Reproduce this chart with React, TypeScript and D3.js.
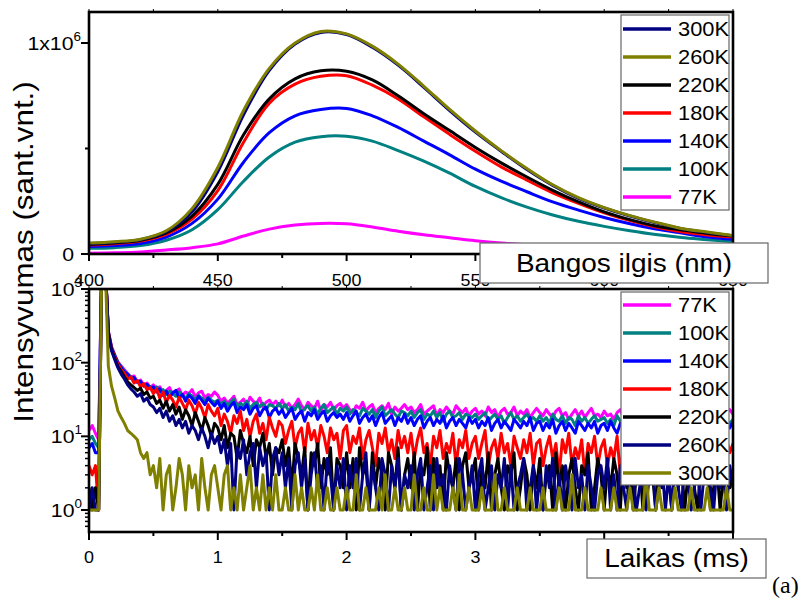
import React from 'react';
import * as d3 from 'd3';

// ---------- Top panel: emission spectra (intensity in units of 10^6) ----------
const WAVELENGTH = [400, 410, 420, 430, 440, 450, 460, 470, 480, 490, 500, 510, 520, 530, 540, 550, 560, 570, 580, 590, 600, 610, 620, 630, 640, 650];
const SPEC_300K = [0.050, 0.056, 0.068, 0.106, 0.200, 0.390, 0.660, 0.870, 0.995, 1.050, 1.040, 0.980, 0.895, 0.790, 0.680, 0.578, 0.487, 0.400, 0.325, 0.264, 0.218, 0.180, 0.148, 0.120, 0.102, 0.086];
const SPEC_260K = [0.052, 0.058, 0.070, 0.110, 0.215, 0.410, 0.680, 0.880, 1.000, 1.055, 1.043, 0.985, 0.900, 0.795, 0.685, 0.583, 0.490, 0.405, 0.328, 0.267, 0.220, 0.182, 0.150, 0.121, 0.104, 0.088];
const SPEC_220K = [0.045, 0.052, 0.065, 0.100, 0.180, 0.330, 0.565, 0.735, 0.830, 0.868, 0.866, 0.825, 0.750, 0.665, 0.585, 0.505, 0.432, 0.365, 0.302, 0.247, 0.200, 0.163, 0.133, 0.114, 0.097, 0.085];
const SPEC_180K = [0.043, 0.049, 0.061, 0.093, 0.165, 0.300, 0.530, 0.715, 0.805, 0.842, 0.845, 0.800, 0.735, 0.650, 0.567, 0.487, 0.413, 0.350, 0.290, 0.240, 0.195, 0.158, 0.128, 0.105, 0.090, 0.080];
const SPEC_140K = [0.035, 0.040, 0.050, 0.080, 0.145, 0.260, 0.435, 0.575, 0.655, 0.685, 0.690, 0.655, 0.600, 0.535, 0.470, 0.402, 0.345, 0.295, 0.247, 0.208, 0.173, 0.143, 0.118, 0.099, 0.081, 0.070];
const SPEC_100K = [0.027, 0.030, 0.040, 0.065, 0.115, 0.210, 0.345, 0.460, 0.530, 0.556, 0.558, 0.535, 0.490, 0.440, 0.383, 0.320, 0.267, 0.222, 0.185, 0.155, 0.131, 0.110, 0.092, 0.078, 0.068, 0.058];
const SPEC_77K = [0.004, 0.006, 0.010, 0.019, 0.030, 0.048, 0.085, 0.118, 0.137, 0.145, 0.143, 0.128, 0.108, 0.091, 0.077, 0.063, 0.052, 0.044, 0.037, 0.031, 0.026, 0.022, 0.019, 0.016, 0.014, 0.012];

const TOP_LEGEND = ['300K', '260K', '220K', '180K', '140K', '100K', '77K'];

// ---------- Bottom panel: decay curves, one value per 0.025 ms bin ----------
const TIME_STEP_MS = 0.025;
const DECAY_77K = [
  12, 14, 11, 9, 3000, 2400, 270, 165, 128, 102, 90, 80, 71, 64, 66, 55, 58, 50, 53, 46,
  50, 44, 47, 39, 42, 46, 37, 41, 44, 36, 40, 38, 43, 34, 39, 41, 33, 37, 35, 40,
  36, 30, 33, 28, 31, 35, 27, 29, 32, 26, 34, 30, 28, 33, 25, 29, 31, 27, 30, 26,
  31, 25, 28, 24, 27, 32, 26, 23, 29, 26, 24, 30, 22, 27, 25, 29, 23, 26, 28, 24,
  27, 23, 21, 26, 24, 29, 22, 25, 27, 21, 24, 26, 23, 28, 20, 25, 22, 24, 27, 23,
  25, 21, 23, 27, 20, 22, 24, 26, 19, 23, 21, 25, 22, 20, 26, 23, 21, 24, 19, 22,
  24, 20, 22, 19, 25, 21, 23, 18, 22, 24, 20, 21, 25, 19, 22, 20, 23, 18, 21, 24,
  21, 19, 23, 20, 18, 22, 24, 19, 21, 17, 20, 23, 19, 22, 18, 21, 24, 19, 20, 18,
  22, 19, 20, 17, 21, 23, 18, 20, 19, 22, 17, 21, 20, 18, 23, 19, 17, 21, 20, 18,
  21, 18, 19, 22, 17, 20, 19, 23, 18, 20, 17, 21, 19, 18, 22, 20, 17, 19, 21, 23,
  20,
];
const DECAY_100K = [
  9, 10, 8, 7, 3000, 2400, 265, 160, 126, 100, 88, 77, 69, 65, 60, 57, 53, 51, 48, 47,
  44, 47, 40, 43, 37, 41, 38, 35, 40, 36, 33, 38, 35, 31, 36, 33, 30, 34, 31, 29,
  31, 27, 30, 26, 29, 32, 25, 28, 26, 30, 24, 27, 29, 25, 28, 23, 27, 26, 24, 28,
  24, 27, 22, 25, 23, 28, 21, 24, 26, 22, 25, 20, 24, 27, 21, 23, 25, 20, 24, 22,
  25, 20, 23, 21, 19, 24, 22, 20, 23, 18, 22, 25, 19, 21, 23, 20, 18, 22, 21, 19,
  22, 18, 21, 23, 17, 20, 19, 22, 18, 21, 16, 20, 22, 18, 19, 21, 17, 20, 19, 18,
  20, 17, 19, 21, 16, 18, 20, 17, 19, 15, 18, 21, 17, 19, 16, 18, 20, 17, 18, 16,
  19, 16, 18, 15, 20, 17, 16, 19, 15, 18, 17, 14, 19, 16, 18, 15, 17, 19, 16, 17,
  18, 15, 17, 14, 19, 16, 17, 15, 18, 14, 16, 19, 15, 17, 16, 14, 18, 15, 17, 16,
  17, 15, 18, 14, 16, 19, 15, 17, 14, 16, 18, 15, 17, 14, 16, 18, 15, 17, 16, 15,
  17,
];
const DECAY_140K = [
  7, 8, 6, 6, 3000, 2400, 262, 158, 124, 98, 86, 75, 70, 61, 63, 54, 56, 48, 51, 45,
  47, 40, 44, 36, 41, 34, 39, 42, 33, 37, 30, 36, 33, 28, 35, 31, 27, 33, 29, 26,
  30, 24, 28, 22, 26, 29, 21, 25, 23, 27, 20, 24, 26, 19, 23, 25, 18, 22, 24, 20,
  23, 18, 21, 24, 17, 20, 22, 16, 21, 19, 23, 17, 20, 22, 16, 19, 21, 18, 20, 17,
  21, 16, 19, 22, 15, 18, 20, 16, 19, 14, 18, 21, 15, 17, 19, 14, 18, 16, 20, 15,
  18, 14, 17, 19, 13, 16, 18, 14, 17, 15, 19, 13, 16, 18, 14, 17, 15, 13, 18, 15,
  17, 13, 16, 14, 18, 12, 15, 17, 13, 16, 14, 12, 17, 15, 13, 16, 14, 18, 12, 15,
  16, 12, 15, 13, 17, 11, 14, 16, 12, 15, 13, 11, 16, 14, 12, 15, 13, 16, 11, 14,
  15, 12, 16, 13, 11, 15, 14, 12, 16, 13, 15, 11, 14, 16, 12, 14, 13, 15, 12, 14,
  16, 12, 15, 13, 17, 11, 14, 15, 12, 16, 13, 14, 11, 15, 13, 16, 12, 14, 15, 13,
  16,
];
const DECAY_180K = [
  4, 3, 4, 1, 3000, 2400, 255, 155, 120, 95, 80, 72, 60, 64, 53, 57, 47, 52, 43, 46,
  38, 44, 33, 40, 29, 36, 31, 25, 34, 28, 23, 31, 26, 20, 29, 24, 18, 27, 22, 19,
  24, 14, 20, 16, 11, 19, 15, 22, 12, 17, 10, 16, 20, 11, 15, 9, 18, 13, 10, 16,
  14, 8, 12, 16, 7, 11, 13, 6, 15, 9, 12, 7, 14, 10, 6, 13, 9, 11, 5, 12,
  14, 6, 10, 8, 13, 5, 9, 12, 7, 4, 11, 8, 13, 6, 9, 5, 12, 7, 10, 6,
  11, 5, 9, 13, 6, 8, 4, 10, 7, 12, 5, 8, 6, 11, 4, 9, 7, 12, 5, 8,
  10, 5, 8, 12, 4, 7, 9, 5, 11, 6, 8, 4, 10, 7, 5, 9, 6, 11, 4, 8,
  9, 4, 7, 10, 5, 8, 3, 9, 6, 11, 4, 7, 5, 9, 3, 8, 6, 10, 4, 7,
  9, 4, 7, 5, 10, 3, 8, 6, 4, 9, 5, 7, 3, 8, 5, 10, 4, 6, 8, 3,
  7, 9, 4, 6, 3, 8, 5, 10, 4, 7, 6, 3, 9, 5, 8, 4, 7, 3, 9, 6,
  8,
];
const DECAY_220K = [
  2, 1, 2, 1, 3000, 2400, 250, 150, 115, 88, 76, 64, 55, 50, 46, 42, 45, 37, 40, 33,
  35, 28, 31, 24, 30, 22, 27, 20, 25, 17, 23, 19, 14, 21, 16, 12, 18, 14, 10, 15,
  13, 9, 14, 7, 11, 10, 5, 12, 8, 6, 10, 4, 9, 7, 11, 5, 8, 3, 7, 6,
  9, 4, 7, 2, 8, 5, 3, 7, 1, 6, 4, 8, 2, 5, 3, 7, 1, 5, 4, 2,
  6, 2, 5, 1, 7, 3, 4, 1, 6, 2, 5, 3, 1, 6, 4, 2, 7, 1, 3, 5,
  2, 6, 1, 4, 3, 7, 1, 5, 2, 4, 1, 6, 3, 2, 5, 1, 4, 6, 2, 3,
  5, 1, 4, 2, 6, 1, 3, 5, 2, 1, 4, 3, 6, 1, 2, 5, 3, 1, 4, 2,
  5, 1, 3, 4, 1, 6, 2, 4, 1, 3, 5, 2, 1, 4, 3, 6, 1, 2, 5, 3,
  1, 4, 2, 5, 3, 1, 6, 2, 4, 1, 3, 5, 1, 2, 4, 3, 1, 5, 2, 4,
  3, 1, 5, 2, 4, 1, 3, 6, 2, 1, 4, 3, 5, 1, 2, 4, 1, 3, 5, 2,
  3,
];
const DECAY_260K = [
  1, 2, 1, 1, 3000, 2400, 245, 145, 110, 85, 70, 60, 50, 44, 40, 35, 38, 30, 33, 27,
  25, 21, 24, 18, 22, 16, 19, 14, 17, 13, 16, 11, 14, 12, 9, 13, 10, 7, 11, 8,
  10, 6, 9, 4, 8, 1, 7, 5, 9, 3, 6, 8, 2, 7, 4, 6, 1, 5, 7, 3,
  6, 2, 5, 1, 4, 6, 2, 5, 1, 3, 6, 2, 4, 1, 5, 3, 1, 4, 2, 5,
  1, 4, 2, 5, 1, 3, 6, 1, 4, 2, 1, 5, 3, 1, 4, 2, 5, 1, 3, 2,
  4, 1, 3, 5, 1, 2, 4, 1, 5, 2, 3, 1, 4, 2, 1, 5, 3, 1, 2, 4,
  1, 3, 5, 1, 2, 4, 1, 3, 2, 5, 1, 4, 1, 2, 3, 5, 1, 2, 4, 1,
  3, 1, 4, 2, 5, 1, 3, 1, 4, 2, 1, 5, 2, 3, 1, 4, 2, 1, 3, 4,
  2, 5, 1, 3, 1, 4, 2, 1, 5, 3, 1, 2, 4, 1, 3, 5, 1, 2, 4, 1,
  3, 1, 4, 2, 1, 5, 3, 1, 2, 4, 1, 3, 5, 2, 1, 4, 2, 3, 1, 4,
  2,
];
const DECAY_300K = [
  1, 1, 1, 1, 3000, 2400, 90, 48, 33, 22, 18, 15, 12, 11, 10, 9, 6, 5, 6, 3,
  4, 2, 5, 1, 3, 4, 1, 2, 5, 3, 1, 4, 2, 3, 1, 5, 2, 1, 3, 4,
  2, 1, 3, 4, 1, 2, 1, 3, 1, 2, 4, 1, 2, 1, 3, 1, 2, 1, 3, 1,
  1, 2, 1, 1, 3, 1, 2, 1, 1, 2, 1, 3, 1, 1, 2, 1, 1, 2, 1, 1,
  2, 1, 1, 3, 1, 1, 2, 1, 1, 1, 2, 1, 3, 1, 1, 2, 1, 1, 2, 1,
  1, 3, 1, 1, 2, 1, 1, 3, 1, 2, 1, 1, 1, 2, 1, 3, 1, 1, 2, 1,
  1, 1, 2, 1, 1, 1, 3, 1, 1, 2, 1, 1, 1, 2, 1, 1, 1, 2, 1, 1,
  1, 2, 1, 1, 1, 1, 2, 1, 1, 1, 3, 1, 1, 1, 2, 1, 1, 1, 1, 2,
  1, 1, 1, 2, 1, 1, 1, 1, 2, 1, 1, 1, 1, 3, 1, 1, 1, 2, 1, 1,
  1, 1, 2, 1, 1, 1, 1, 2, 1, 1, 1, 1, 2, 1, 1, 1, 1, 1, 2, 1,
  1,
];
const BOTTOM_LEGEND = ['77K', '100K', '140K', '180K', '220K', '260K', '300K'];

const X_TICKS_TOP = [400, 450, 500, 550, 600, 650];
const X_TICKS_BOTTOM = [0, 1, 2, 3, 4, 5];
const Y_DECADES = [0, 1, 2, 3];

// ---------- styling ----------
const COLORS: Record<string, string> = {
  '300K_top': '#000080', '260K_top': '#808000',
  '220K': '#000000', '180K': '#ff0000', '140K': '#0000ff', '100K': '#008080', '77K': '#ff00ff',
  '260K_bot': '#000080', '300K_bot': '#808000',
};
const SANS = "'Liberation Sans', Arial, Helvetica, sans-serif";
const SERIF = "'Liberation Serif', 'Times New Roman', serif";
const SX = 1.12;

const L = 89, R = 733;
const T1 = 12, B1 = 254;
const T2 = 289, B2 = 532;

const xTop = d3.scaleLinear().domain([400, 650]).range([L, R]);
const yTop = d3.scaleLinear().domain([0, 1]).range([B1, 43]);
const xBot = d3.scaleLinear().domain([0, 5]).range([L, R]);
const yBot = d3.scaleLog().domain([1, 1000]).range([510, T2]);

function Txt(props: { x: number; y: number; size: number; anchor?: string; rot?: number; family?: string; sx?: number; children: React.ReactNode }) {
  const { x, y, size, anchor = 'start', rot = 0, family = SANS, sx = SX, children } = props;
  return (
    <text transform={`translate(${x},${y}) rotate(${rot}) scale(${sx},1)`} fontSize={size} fontFamily={family}
      textAnchor={anchor as any} fill="#000">{children}</text>
  );
}

export default function App() {
  const topSeries = [
    { key: '77K', v: SPEC_77K, c: COLORS['77K'] },
    { key: '100K', v: SPEC_100K, c: COLORS['100K'] },
    { key: '140K', v: SPEC_140K, c: COLORS['140K'] },
    { key: '180K', v: SPEC_180K, c: COLORS['180K'] },
    { key: '220K', v: SPEC_220K, c: COLORS['220K'] },
    { key: '300K', v: SPEC_300K, c: COLORS['300K_top'] },
    { key: '260K', v: SPEC_260K, c: COLORS['260K_top'] },
  ];
  const topLegendColors = [COLORS['300K_top'], COLORS['260K_top'], COLORS['220K'], COLORS['180K'], COLORS['140K'], COLORS['100K'], COLORS['77K']];
  const botSeries = [
    { key: '77K', v: DECAY_77K, c: COLORS['77K'] },
    { key: '100K', v: DECAY_100K, c: COLORS['100K'] },
    { key: '140K', v: DECAY_140K, c: COLORS['140K'] },
    { key: '180K', v: DECAY_180K, c: COLORS['180K'] },
    { key: '220K', v: DECAY_220K, c: COLORS['220K'] },
    { key: '260K', v: DECAY_260K, c: COLORS['260K_bot'] },
    { key: '300K', v: DECAY_300K, c: COLORS['300K_bot'] },
  ];
  const botLegendColors = [COLORS['77K'], COLORS['100K'], COLORS['140K'], COLORS['180K'], COLORS['220K'], COLORS['260K_bot'], COLORS['300K_bot']];

  const topLine = d3.line<number>()
    .x((_, i) => xTop(WAVELENGTH[i]))
    .y((d) => yTop(d))
    .curve(d3.curveCatmullRom.alpha(0.5));
  const botLine = d3.line<number>()
    .x((_, i) => xBot(i * TIME_STEP_MS))
    .y((d) => yBot(d));

  const topXTicks = d3.range(400, 651, 25);
  const botXTicks = d3.range(0, 5.001, 0.5);
  const minorLog: number[] = [];
  [0.1, 1, 10, 100].forEach((dec) => {
    for (let k = 2; k <= 9; k++) {
      const v = dec * k;
      if (v >= 0.52 && v < 1000) minorLog.push(v);
    }
  });

  return (
    <svg width={806} height={601} style={{ position: 'absolute', left: 0, top: 0, background: '#fff' }}>
      <defs>
        <clipPath id="clipTop"><rect x={L} y={T1} width={R - L} height={B1 - T1} /></clipPath>
        <clipPath id="clipBot"><rect x={L} y={T2} width={R - L} height={B2 - T2} /></clipPath>
      </defs>
      <rect x={0} y={0} width={806} height={601} fill="#fff" />

      {/* ---------- TOP PANEL ---------- */}
      <g clipPath="url(#clipTop)">
        {topSeries.map((s) => (
          <path key={s.key} d={topLine(s.v) || ''} fill="none" stroke={s.c} strokeWidth={3} strokeLinejoin="round" />
        ))}
      </g>
      <rect x={L} y={T1} width={R - L} height={B1 - T1} fill="none" stroke="#000" strokeWidth={2.6} />
      {topXTicks.map((t) => (
        <g key={'tx' + t}>
          <line x1={xTop(t)} x2={xTop(t)} y1={B1} y2={B1 + (t % 50 === 0 ? 7 : 4)} stroke="#000" strokeWidth={2} />
          <line x1={xTop(t)} x2={xTop(t)} y1={T1} y2={T1 - 3} stroke="#000" strokeWidth={1} />
        </g>
      ))}
      {[0, 0.5, 1].map((v) => (
        <line key={'ty' + v} x1={L} x2={L - (v === 0.5 ? 4 : 8)} y1={yTop(v)} y2={yTop(v)} stroke="#000" strokeWidth={2} />
      ))}
      <Txt x={74} y={yTop(0) + 7} size={19} anchor="end">0</Txt>
      <text transform={`translate(81,${yTop(1) + 7}) scale(${SX},1)`} fontSize={19} fontFamily={SANS} textAnchor="end">
        1x10<tspan dy={-9} fontSize={12}>6</tspan>
      </text>
      {X_TICKS_TOP.map((t) => (
        <Txt key={'xl' + t} x={xTop(t)} y={286} size={16} anchor="middle">{t}</Txt>
      ))}

      {/* top legend */}
      <rect x={621} y={15} width={108} height={195} fill="#fff" stroke="#666" strokeWidth={1.2} />
      {TOP_LEGEND.map((lab, i) => (
        <g key={'tl' + lab}>
          <line x1={623} x2={671} y1={29 + 28 * i} y2={29 + 28 * i} stroke={topLegendColors[i]} strokeWidth={3.5} />
          <Txt x={678} y={29 + 28 * i + 7} size={19.5}>{lab}</Txt>
        </g>
      ))}

      {/* ---------- BOTTOM PANEL ---------- */}
      <g clipPath="url(#clipBot)">
        {botSeries.map((s) => (
          <path key={s.key} d={botLine(s.v) || ''} fill="none" stroke={s.c} strokeWidth={3} strokeLinejoin="round" />
        ))}
      </g>
      <rect x={L} y={T2} width={R - L} height={B2 - T2} fill="none" stroke="#000" strokeWidth={2.6} />
      {botXTicks.map((t) => (
        <g key={'bx' + t}>
          <line x1={xBot(t)} x2={xBot(t)} y1={B2} y2={B2 + (Math.abs(t - Math.round(t)) < 1e-6 ? 8 : 4)} stroke="#000" strokeWidth={2} />
          <line x1={xBot(t)} x2={xBot(t)} y1={T2} y2={T2 - 3} stroke="#000" strokeWidth={1} />
        </g>
      ))}
      {Y_DECADES.map((e) => (
        <g key={'yd' + e}>
          <line x1={L} x2={L - 8} y1={yBot(Math.pow(10, e))} y2={yBot(Math.pow(10, e))} stroke="#000" strokeWidth={2} />
          <text transform={`translate(82,${yBot(Math.pow(10, e)) + 7}) scale(${SX},1)`} fontSize={19} fontFamily={SANS} textAnchor="end">
            10<tspan dy={-9} fontSize={12}>{e}</tspan>
          </text>
        </g>
      ))}
      {minorLog.map((v) => (
        <line key={'ym' + v} x1={L} x2={L - 4} y1={yBot(v)} y2={yBot(v)} stroke="#000" strokeWidth={1.5} />
      ))}
      {X_TICKS_BOTTOM.map((t) => (
        <Txt key={'bl' + t} x={xBot(t)} y={563} size={16} anchor="middle">{t}</Txt>
      ))}

      {/* bottom legend */}
      <rect x={621} y={292} width={108} height={193} fill="#fff" stroke="#666" strokeWidth={1.2} />
      {BOTTOM_LEGEND.map((lab, i) => (
        <g key={'bl2' + lab}>
          <line x1={623} x2={671} y1={305 + 28 * i} y2={305 + 28 * i} stroke={botLegendColors[i]} strokeWidth={3.5} />
          <Txt x={678} y={305 + 28 * i + 7} size={19.5}>{lab}</Txt>
        </g>
      ))}

      {/* axis title boxes */}
      <rect x={480} y={243} width={288} height={40} fill="#fff" stroke="#666" strokeWidth={1.2} />
      <Txt x={624} y={272} size={25} anchor="middle">Bangos ilgis (nm)</Txt>
      <rect x={587} y={539} width={179} height={39} fill="#fff" stroke="#666" strokeWidth={1.2} />
      <Txt x={676.5} y={567} size={25} anchor="middle">Laikas (ms)</Txt>

      {/* y title */}
      <Txt x={33} y={252} size={28} anchor="middle" rot={-90}>Intensyvumas (sant.vnt.)</Txt>

      <Txt x={772} y={593} size={24} family={SERIF} sx={1}>(a)</Txt>
    </svg>
  );
}
